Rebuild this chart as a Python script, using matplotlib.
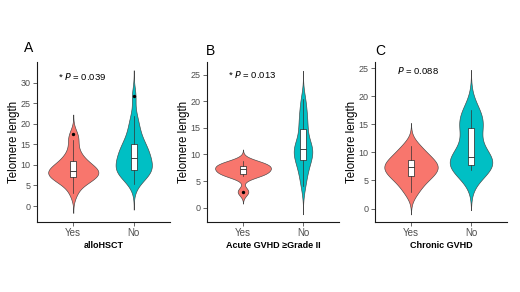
import numpy as np
import matplotlib
matplotlib.use("Agg")
import matplotlib.pyplot as plt

plt.rcParams['font.family'] = ['Liberation Sans', 'DejaVu Sans']

groups = ["Yes", "No"]
panel_letters = ["A", "B", "C"]
x_titles = ["alloHSCT", "Acute GVHD \u2265Grade II", "Chronic GVHD"]
p_stars = ["*", "*", ""]
p_values = ["0.039", "0.013", "0.088"]

a_yes = [3.1, 5.2, 6.0, 6.5, 6.8, 7.1, 7.6, 7.9, 8.3, 8.6, 8.7, 9.0, 9.4, 10.0, 10.8, 11.2, 12.3, 13.8, 16.0, 17.5]
a_no = [5.4, 6.8, 7.5, 7.9, 8.2, 8.5, 8.8, 9.3, 9.8, 10.3, 10.8, 11.3, 11.8, 12.3,
        12.8, 13.4, 14.0, 14.6, 15.1, 16.0, 17.2, 18.5, 20.0, 22.0, 26.8]
b_yes = [3.0, 5.9, 6.3, 6.5, 7.0, 7.4, 7.6, 8.0, 8.3, 8.7]
b_no = [4.0, 5.6, 6.8, 7.8, 8.6, 9.0, 9.6, 10.2, 10.6, 11.0, 11.2, 11.6, 12.2, 13.0,
        14.6, 15.4, 16.4, 17.6, 19.0, 20.5]
c_yes = [3.0, 4.5, 5.5, 6.0, 6.6, 7.1, 7.6, 8.0, 8.4, 9.2, 10.0, 11.2]
c_no = [6.9, 7.2, 7.4, 7.6, 7.9, 8.3, 8.8, 9.4, 10.5, 13.8, 14.6, 15.5, 16.5, 17.5]

panels = [[a_yes, a_no], [b_yes, b_no], [c_yes, c_no]]
bandwidths = [[1.6, 2.1], [0.75, 1.75], [1.35, 2.4]]

y_ticks = [[0, 5, 10, 15, 20, 25, 30], [0, 5, 10, 15, 20, 25], [0, 5, 10, 15, 20, 25]]
y_lims = [(-3.9, 35.1), (-2.7, 27.4), (-2.4, 26.1)]
p_y = [31.5, 25.0, 24.5]

colors = ["#F8766D", "#00BFC4"]
max_widths = [[0.83, 0.60], [0.93, 0.31], [0.89, 0.71]]
axes_px = [(37, 133), (207, 132), (375, 132)]
letter_pos = [(-0.06, 1.0875), (0.03, 1.07), (0.04, 1.07)]
p_x = [0.16, 0.16, 0.17]

W, H = 520, 292
fig = plt.figure(figsize=(W / 100, H / 100), dpi=100)


def kde(vals, bw):
    vals = np.asarray(vals)
    y = np.linspace(vals.min() - 3 * bw, vals.max() + 3 * bw, 512)
    d = np.exp(-0.5 * ((y[:, None] - vals[None, :]) / bw) ** 2).sum(axis=1)
    return y, d / d.max()


for i in range(3):
    left, width = axes_px[i]
    ax = fig.add_axes([left / W, (H - 222) / H, width / W, 160 / H])
    for j, vals in enumerate(panels[i]):
        pos = j + 1
        y, d = kde(vals, bandwidths[i][j])
        half = d * max_widths[i][j] / 2
        ax.fill_betweenx(y, pos - half, pos + half, facecolor=colors[j],
                         edgecolor="#444444", linewidth=0.45, zorder=1)
        ax.boxplot([vals], positions=[pos], widths=0.1, patch_artist=True,
                   boxprops=dict(facecolor="white", edgecolor="#222222", linewidth=0.5),
                   medianprops=dict(color="#222222", linewidth=0.6),
                   whiskerprops=dict(color="#333333", linewidth=0.5),
                   capprops=dict(linewidth=0),
                   flierprops=dict(marker="o", markersize=1.4, markerfacecolor="black",
                                   markeredgecolor="black"),
                   zorder=2)
    ax.set_xlim(0.4, 2.6)
    ax.set_ylim(*y_lims[i])
    ax.set_xticks([1, 2])
    ax.set_xticklabels(groups)
    ax.set_yticks(y_ticks[i])
    ax.tick_params(axis="both", labelsize=6.5, colors="#4d4d4d", length=3, width=0.6,
                   labelcolor="#4d4d4d")
    ax.tick_params(axis="x", pad=1.5, labelsize=7)
    ax.tick_params(axis="y", pad=1.5)
    for s in ["top", "right"]:
        ax.spines[s].set_visible(False)
    for s in ["left", "bottom"]:
        ax.spines[s].set_color("#1a1a1a")
        ax.spines[s].set_linewidth(0.8)
    ax.set_ylabel("Telomere length", fontsize=8.3)
    ax.yaxis.set_label_coords(-0.172, 0.5)
    ax.yaxis.label.set_va("center")
    ax.set_xlabel(x_titles[i], fontsize=6.5, fontweight="bold")
    ax.xaxis.set_label_coords(0.5, -0.15)
    ax.xaxis.label.set_va("center")
    ax.text(letter_pos[i][0], letter_pos[i][1], panel_letters[i], transform=ax.transAxes,
            fontsize=10, ha="center", va="center")
    star = p_stars[i]
    txt = (star + " " if star else "") + r"$\it{P}$" + " = " + p_values[i]
    ax.text(p_x[i], p_y[i], txt, fontsize=6.8, ha="left", va="center",
            transform=ax.get_yaxis_transform())

fig.savefig("out.png", dpi=100, facecolor="white")
